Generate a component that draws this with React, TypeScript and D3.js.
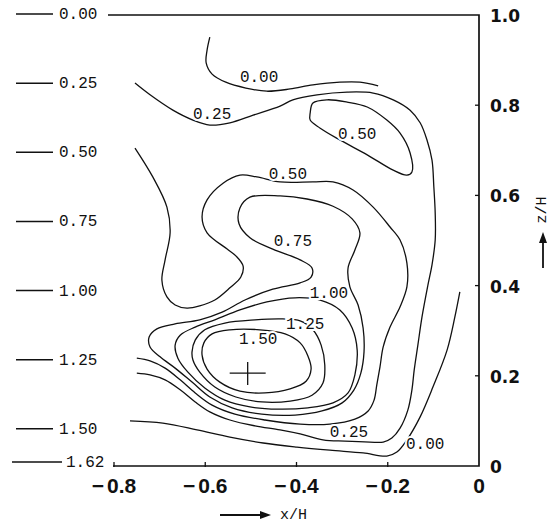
import React from "react";
import * as d3 from "d3";

type Pt = [number, number];

// ---- axis / legend data ----
const xTickValues = [-0.8, -0.6, -0.4, -0.2, 0];
const xTickLabels = ["0.8", "0.6", "0.4", "0.2", "0"];
const xTickNegative = [true, true, true, true, false];
const zTickValues = [0, 0.2, 0.4, 0.6, 0.8, 1.0];
const zTickLabels = ["0", "0.2", "0.4", "0.6", "0.8", "1.0"];
const depthValues = [0, 0.25, 0.5, 0.75, 1.0, 1.25, 1.5, 1.62];
const depthLabels = ["0.00", "0.25", "0.50", "0.75", "1.00", "1.25", "1.50", "1.62"];

// ---- contour lines (x/H, z/H) ----
const contour000Top: Pt[] = [
  [-0.59, 0.951], [-0.596, 0.922], [-0.598, 0.894], [-0.585, 0.869], [-0.555, 0.851],
  [-0.511, 0.838], [-0.465, 0.831], [-0.414, 0.836], [-0.364, 0.845], [-0.305, 0.851],
  [-0.261, 0.851], [-0.221, 0.843],
];

const contour025: Pt[] = [
  [-0.754, 0.849], [-0.721, 0.823], [-0.671, 0.789], [-0.627, 0.767], [-0.59, 0.756],
  [-0.546, 0.761], [-0.495, 0.778], [-0.436, 0.798], [-0.408, 0.812], [-0.355, 0.823],
  [-0.289, 0.829], [-0.232, 0.827], [-0.188, 0.812], [-0.151, 0.789], [-0.129, 0.761],
  [-0.114, 0.723], [-0.103, 0.678], [-0.099, 0.619], [-0.096, 0.561], [-0.096, 0.501],
  [-0.103, 0.446], [-0.112, 0.401], [-0.125, 0.33], [-0.134, 0.268], [-0.142, 0.213],
  [-0.147, 0.169], [-0.156, 0.124], [-0.173, 0.084], [-0.191, 0.062], [-0.21, 0.053],
  [-0.239, 0.053], [-0.294, 0.055], [-0.342, 0.058], [-0.392, 0.071], [-0.436, 0.08],
  [-0.491, 0.089], [-0.546, 0.102], [-0.59, 0.12], [-0.622, 0.142], [-0.655, 0.169],
  [-0.688, 0.191], [-0.721, 0.202], [-0.75, 0.206],
];

const contour050Loop: Pt[] = [
  [-0.37, 0.783], [-0.364, 0.805], [-0.333, 0.812], [-0.289, 0.807], [-0.245, 0.796],
  [-0.202, 0.767], [-0.173, 0.738], [-0.151, 0.694], [-0.147, 0.652], [-0.158, 0.645],
  [-0.188, 0.656], [-0.245, 0.69], [-0.305, 0.723], [-0.348, 0.749], [-0.37, 0.767],
];

const contour050: Pt[] = [
  [-0.754, 0.705], [-0.715, 0.641], [-0.684, 0.574], [-0.677, 0.517], [-0.688, 0.457],
  [-0.695, 0.412], [-0.684, 0.375], [-0.666, 0.357], [-0.64, 0.35], [-0.612, 0.355],
  [-0.579, 0.368], [-0.546, 0.395], [-0.522, 0.419], [-0.517, 0.443], [-0.533, 0.466],
  [-0.552, 0.481], [-0.596, 0.517], [-0.607, 0.552], [-0.596, 0.59], [-0.561, 0.627],
  [-0.524, 0.645], [-0.487, 0.641], [-0.436, 0.63], [-0.364, 0.63], [-0.32, 0.63],
  [-0.276, 0.612], [-0.232, 0.574], [-0.195, 0.53], [-0.173, 0.501], [-0.158, 0.45],
  [-0.158, 0.397], [-0.173, 0.353], [-0.195, 0.308], [-0.21, 0.264], [-0.217, 0.22],
  [-0.224, 0.18], [-0.23, 0.146], [-0.243, 0.122], [-0.272, 0.104], [-0.327, 0.093],
  [-0.392, 0.093], [-0.469, 0.102], [-0.535, 0.115], [-0.585, 0.135], [-0.622, 0.162],
  [-0.655, 0.191], [-0.688, 0.217], [-0.721, 0.233], [-0.75, 0.239],
];

const contour075: Pt[] = [
  [-0.502, 0.596], [-0.436, 0.599], [-0.377, 0.592], [-0.32, 0.576], [-0.278, 0.548],
  [-0.261, 0.517], [-0.272, 0.479], [-0.287, 0.439], [-0.283, 0.397], [-0.265, 0.357],
  [-0.254, 0.306], [-0.252, 0.253], [-0.259, 0.206], [-0.274, 0.169], [-0.3, 0.14],
  [-0.344, 0.122], [-0.403, 0.113], [-0.476, 0.115], [-0.541, 0.129], [-0.59, 0.153],
  [-0.629, 0.186], [-0.666, 0.217], [-0.699, 0.242], [-0.721, 0.264], [-0.723, 0.286],
  [-0.706, 0.304], [-0.666, 0.315], [-0.612, 0.324], [-0.563, 0.341], [-0.513, 0.368],
  [-0.452, 0.392], [-0.392, 0.406], [-0.368, 0.419], [-0.366, 0.439], [-0.392, 0.457],
  [-0.452, 0.481], [-0.502, 0.506], [-0.526, 0.537], [-0.524, 0.572],
];

const contour100: Pt[] = [
  [-0.666, 0.268], [-0.655, 0.29], [-0.622, 0.308], [-0.579, 0.324], [-0.524, 0.346],
  [-0.465, 0.364], [-0.403, 0.373], [-0.348, 0.368], [-0.305, 0.346], [-0.278, 0.306],
  [-0.267, 0.257], [-0.272, 0.202], [-0.287, 0.162], [-0.32, 0.14], [-0.375, 0.129],
  [-0.441, 0.126], [-0.502, 0.131], [-0.557, 0.146], [-0.601, 0.173], [-0.638, 0.208],
  [-0.66, 0.239],
];

const contour125: Pt[] = [
  [-0.629, 0.253], [-0.622, 0.279], [-0.601, 0.302], [-0.557, 0.317], [-0.491, 0.324],
  [-0.43, 0.326], [-0.392, 0.322], [-0.364, 0.302], [-0.346, 0.268], [-0.338, 0.224],
  [-0.342, 0.184], [-0.366, 0.157], [-0.414, 0.144], [-0.476, 0.142], [-0.533, 0.153],
  [-0.579, 0.175], [-0.612, 0.208], [-0.627, 0.235],
];

const contour150: Pt[] = [
  [-0.607, 0.246], [-0.603, 0.273], [-0.585, 0.293], [-0.546, 0.302], [-0.48, 0.302],
  [-0.425, 0.293], [-0.392, 0.273], [-0.375, 0.244], [-0.368, 0.215], [-0.379, 0.188],
  [-0.414, 0.171], [-0.469, 0.162], [-0.524, 0.166], [-0.568, 0.186], [-0.596, 0.215],
];

const contour000Bottom: Pt[] = [
  [-0.765, 0.1], [-0.693, 0.095], [-0.618, 0.08], [-0.546, 0.064], [-0.473, 0.051],
  [-0.399, 0.042], [-0.327, 0.035], [-0.254, 0.029], [-0.202, 0.022], [-0.18, 0.031],
  [-0.158, 0.058], [-0.129, 0.109], [-0.101, 0.175], [-0.07, 0.257], [-0.053, 0.33],
  [-0.042, 0.386],
];

const openContours: Pt[][] = [contour000Top, contour025, contour050, contour000Bottom];
const closedContours: Pt[][] = [contour050Loop, contour075, contour100, contour125, contour150];

// ---- contour labels ----
const labelTexts = ["0.00", "0.25", "0.50", "0.50", "0.75", "1.00", "1.25", "1.50", "0.25", "0.00"];
const labelX = [-0.482, -0.585, -0.267, -0.419, -0.408, -0.329, -0.381, -0.484, -0.285, -0.118];
const labelZ = [0.86, 0.778, 0.734, 0.646, 0.497, 0.381, 0.313, 0.279, 0.073, 0.047];

const peak: Pt = [-0.507, 0.206];

export default function App() {
  const W = 559;
  const H = 529;
  const x = d3.scaleLinear().domain([-0.8, 0]).range([114, 479]);
  const z = d3.scaleLinear().domain([0, 1]).range([466, 15]);
  const depth = d3.scaleLinear().domain([0, 1.62]).range([14, 462]);

  const openLine = d3
    .line<Pt>()
    .x((d) => x(d[0]))
    .y((d) => z(d[1]))
    .curve(d3.curveCatmullRom.alpha(0.5));
  const closedLine = d3
    .line<Pt>()
    .x((d) => x(d[0]))
    .y((d) => z(d[1]))
    .curve(d3.curveCatmullRomClosed.alpha(0.5));

  const ink = "#111";
  const mono = "'Liberation Mono', 'DejaVu Sans Mono', monospace";
  const x0 = x(0);
  const zTop = z(1);
  const zBot = z(0);

  return (
    <svg
      width={W}
      height={H}
      viewBox={`0 0 ${W} ${H}`}
      style={{ position: "absolute", left: 0, top: 0, display: "block" }}
    >
      <rect x={0} y={0} width={W} height={H} fill="#fff" />

      {/* frame */}
      <path
        d={`M${x(-0.8) - 6},${zTop} H${x0} V${zBot} H${x(-0.8) - 1}`}
        fill="none"
        stroke={ink}
        strokeWidth={1.7}
      />

      {/* bottom ticks */}
      {xTickValues.slice(0, -1).map((v, i) => (
        <line key={"xt" + i} x1={x(v)} x2={x(v)} y1={zBot + 1} y2={zBot - 4} stroke={ink} strokeWidth={1.3} />
      ))}
      {/* right ticks */}
      {zTickValues.slice(1, -1).map((v, i) => (
        <line key={"zt" + i} x1={x0} x2={x0 - 4} y1={z(v)} y2={z(v)} stroke={ink} strokeWidth={1.3} />
      ))}

      {/* bottom tick labels */}
      {xTickValues.map((v, i) => (
        <text
          key={"xl" + i}
          x={x(v)}
          y={zBot + 27}
          textAnchor="middle"
          fontFamily="'Liberation Sans', Arial, sans-serif"
          fontWeight="bold"
          fontSize={21}
          fill={ink}
        >
          {xTickNegative[i] ? (
            <>
              <tspan>{"\u2212"}</tspan>
              <tspan dx={3}>{xTickLabels[i]}</tspan>
            </>
          ) : (
            xTickLabels[i]
          )}
        </text>
      ))}

      {/* right tick labels */}
      {zTickValues.map((v, i) => (
        <text
          key={"zl" + i}
          x={x0 + 11}
          y={z(v) + 1}
          dominantBaseline="central"
          fontFamily="'DejaVu Sans', sans-serif"
          fontWeight="bold"
          fontSize={17}
          fill={ink}
        >
          {zTickLabels[i]}
        </text>
      ))}

      {/* left depth legend */}
      {depthValues.map((v, i) => {
        const last = i === depthValues.length - 1;
        const y = depth(v);
        return (
          <g key={"dl" + i}>
            <line x1={last ? 12 : 16} x2={last ? 62 : 53} y1={y} y2={y} stroke={ink} strokeWidth={1.5} />
            <text
              x={last ? 66 : 59}
              y={y + 1}
              dominantBaseline="central"
              fontFamily={mono}
              fontSize={16}
              fill={ink}
            >
              {depthLabels[i]}
            </text>
          </g>
        );
      })}

      {/* contours */}
      {openContours.map((c, i) => (
        <path key={"oc" + i} d={openLine(c) || ""} fill="none" stroke={ink} strokeWidth={1.3} />
      ))}
      {closedContours.map((c, i) => (
        <path key={"cc" + i} d={closedLine(c) || ""} fill="none" stroke={ink} strokeWidth={1.3} />
      ))}

      {/* contour labels */}
      {labelTexts.map((t, i) => (
        <text
          key={"cl" + i}
          x={x(labelX[i])}
          y={z(labelZ[i])}
          textAnchor="middle"
          dominantBaseline="central"
          fontFamily={mono}
          fontSize={16}
          fill={ink}
          stroke="#fff"
          strokeWidth={4}
          paintOrder="stroke"
        >
          {t}
        </text>
      ))}

      {/* peak marker */}
      <line x1={x(peak[0]) - 18} x2={x(peak[0]) + 18} y1={z(peak[1])} y2={z(peak[1])} stroke={ink} strokeWidth={1.3} />
      <line x1={x(peak[0])} x2={x(peak[0])} y1={z(peak[1]) - 11} y2={z(peak[1]) + 12} stroke={ink} strokeWidth={1.3} />

      {/* x/H axis title */}
      <line x1={220} x2={263} y1={515} y2={515} stroke={ink} strokeWidth={1.8} />
      <polygon points="271,515 260,511 260,519" fill={ink} />
      <text x={280} y={515} dominantBaseline="central" fontFamily={mono} fontSize={15} fill={ink}>
        x/H
      </text>

      {/* z/H axis title */}
      <line x1={543} x2={543} y1={268} y2={241} stroke={ink} strokeWidth={1.8} />
      <polygon points="543,232 539,243 547,243" fill={ink} />
      <text
        x={0}
        y={0}
        transform={`translate(542,210) rotate(-90)`}
        textAnchor="middle"
        dominantBaseline="central"
        fontFamily={mono}
        fontSize={15}
        fill={ink}
      >
        z/H
      </text>
    </svg>
  );
}
